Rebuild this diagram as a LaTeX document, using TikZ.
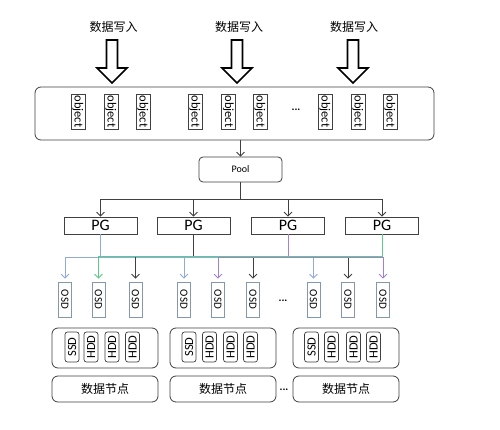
\documentclass[tikz,border=0pt]{standalone}
\usepackage{fontspec}
\setmainfont{Carlito}
\newfontfamily\cjk{Noto Sans CJK SC}
\usetikzlibrary{arrows.meta}
\definecolor{lineg}{HTML}{404040}
\definecolor{osdc}{HTML}{8497B0}
\definecolor{blueL}{HTML}{8FAADC}
\definecolor{greenL}{HTML}{5CCB8A}
\definecolor{purpL}{HTML}{A47FD2}
\begin{document}
\begin{tikzpicture}[x=1pt,y=-1pt,
  box/.style={draw=lineg, line width=0.8pt, rounded corners=6pt, inner sep=0pt},
  objbox/.style={draw=lineg, line width=0.7pt, minimum width=14pt, minimum height=35pt, inner sep=0pt, font=\fontsize{12.5}{12.5}\selectfont},
  osdbox/.style={draw=osdc, line width=0.8pt, minimum width=13pt, minimum height=35pt, inner sep=0pt, font=\fontsize{11}{11}\selectfont},
  disk/.style={draw=lineg, line width=0.7pt, rounded corners=2.5pt, minimum width=14pt, minimum height=30pt, inner sep=0pt, font=\fontsize{12.5}{12.5}\selectfont},
  pgbox/.style={draw=lineg, line width=0.8pt, minimum width=73pt, minimum height=17pt, inner sep=0pt, font=\fontsize{16}{16}\selectfont},
  lbl/.style={font=\cjk\fontsize{12}{14}\selectfont, inner sep=0pt},
  dots/.style={font=\bfseries\fontsize{11}{11}\selectfont, inner sep=0pt},
  arr/.style={-{Straight Barb[length=4pt,width=8pt]}, line width=0.8pt},
  bigarrow/.style={draw=black, line width=1.6pt, fill=white, line join=miter}
]
\useasboundingbox[fill=white] (0,0) rectangle (500,430);

% input labels and block arrows
\node[lbl] (w1) at (113.5,27) {数据写入};
\node[lbl] (w2) at (239,27) {数据写入};
\node[lbl] (w3) at (354,27) {数据写入};
\foreach \c in {112,237,353}{
  \draw[bigarrow] (\c-5.5,40) -- (\c+5.5,40) -- (\c+5.5,68) -- (\c+15,68) -- (\c,83) -- (\c-15,68) -- (\c-5.5,68) -- cycle;
}

% object container
\node[box, minimum width=399pt, minimum height=53pt] (objs) at (234.5,113.5) {};
\foreach \x [count=\i] in {78,111,143,195,228.5,260,325,358,390}{
  \node[objbox] (obj\i) at (\x,111.5) {\rotatebox{-90}{object}};
}
\node[dots] (d1) at (296,110) {...};

% pool
\node[box, rounded corners=4pt, minimum width=83pt, minimum height=25pt, font=\fontsize{10}{10}\selectfont] (pool) at (240.5,169.5) {Pool};
\draw[arr, lineg] (objs.south -| pool.north) -- (pool.north);

% PGs
\node[pgbox] (pg1) at (100.5,225.5) {PG};
\node[pgbox] (pg2) at (193.5,225.5) {PG};
\node[pgbox] (pg3) at (288,225.5) {PG};
\node[pgbox] (pg4) at (382,225.5) {PG};
\foreach \p in {pg1,pg2,pg3,pg4}{
  \draw[arr, lineg] (pool.south) -- ++(0,17) -| (\p.north);
}

% OSDs
\foreach \x [count=\i] in {65,98.5,135.5,184,218,253,313.5,348,383}{
  \node[osdbox] (osd\i) at (\x,299.5) {\rotatebox{-90}{OSD}};
}
\node[dots] (d2) at (283,301) {...};

% PG -> OSD mapping
\foreach \o in {osd1,osd4,osd7}{
  \draw[arr, blueL, shorten >=3pt] (pg1.south) -- ++(0,23) -| (\o.north);
}
\foreach \o in {osd3,osd6,osd8}{
  \draw[arr, lineg, shorten >=3pt] (pg2.south) -- ++(0,21.5) -| (\o.north);
}
\foreach \o in {osd5,osd9}{
  \draw[arr, purpL, shorten >=3pt] (pg3.south) -- ++(0,22.5) -| (\o.north);
}
\draw[arr, greenL, shorten >=3pt] (pg4.south) -- ++(0,22) -| (osd2.north);

% data nodes with disks
\foreach \cx [count=\g] in {105,223,346}{
  \node[box, minimum width=106pt, minimum height=40pt] (grp\g) at (\cx,348) {};
  \node[box, minimum width=106pt, minimum height=26pt] (dn\g) at (\cx,389) {\cjk\fontsize{12}{14}\selectfont 数据节点};
}
\foreach \x/\t [count=\i] in {72/SSD,91/HDD,112/HDD,132.5/HDD,189/SSD,209.5/HDD,230.5/HDD,250.5/HDD,311.5/SSD,331.5/HDD,353.5/HDD,373.5/HDD}{
  \node[disk] (disk\i) at (\x,347) {\rotatebox{90}{\t}};
}
\node[dots] (d3) at (284,390) {...};
\end{tikzpicture}
\end{document}
